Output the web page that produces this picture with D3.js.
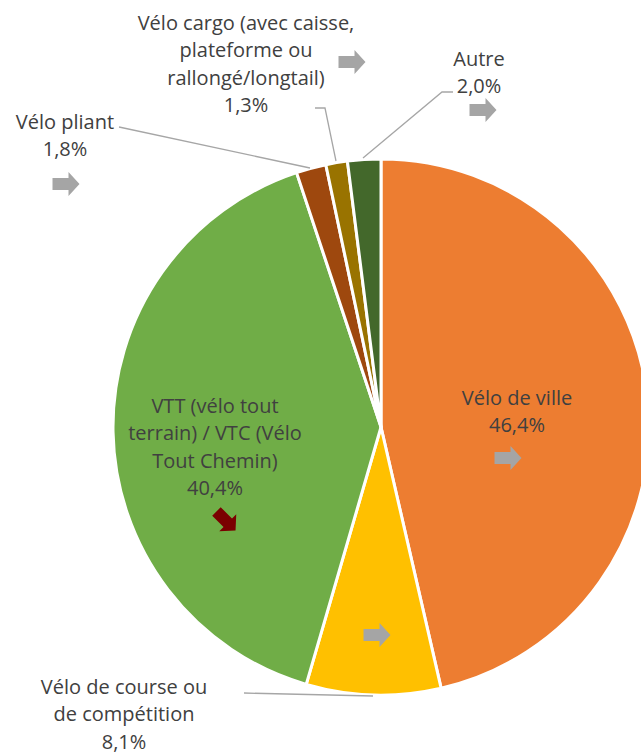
<!DOCTYPE html>
<html>
<head>
<meta charset="utf-8">
<script src="https://cdn.jsdelivr.net/npm/d3@7"></script>
<style>
  body { margin: 0; background: #fff; }
  svg text { font-family: "Open Sans", "Noto Sans", sans-serif; font-size: 20px; fill: #404040; }
</style>
</head>
<body>
<svg width="641" height="753"></svg>
<script>
// data
var categories = ["Vélo de ville", "Vélo de course ou de compétition", "VTT (vélo tout terrain) / VTC (Vélo Tout Chemin)", "Vélo pliant", "Vélo cargo (avec caisse, plateforme ou rallongé/longtail)", "Autre"];
var values = [46.4, 8.1, 40.4, 1.8, 1.3, 2.0];
var trends = ["flat", "flat", "down", "flat", "flat", "flat"];
var colors = ["#ED7D31", "#FFC000", "#70AD47", "#9E480E", "#997300", "#43682B"];

// label layout (text lines, centre x, first line y, arrow centre)
var labelLines = [
  ["Vélo de ville", "46,4%"],
  ["Vélo de course ou", "de compétition", "8,1%"],
  ["VTT (vélo tout", "terrain) / VTC (Vélo", "Tout Chemin)", "40,4%"],
  ["Vélo pliant", "1,8%"],
  ["Vélo cargo (avec caisse,", "plateforme ou", "rallongé/longtail)", "1,3%"],
  ["Autre", "2,0%"]
];
var labelPos = [[517, 397], [124, 686], [215, 405], [65, 121], [246, 22], [479, 58]];
var arrowPos = [[508, 458], [377, 635], [226, 521], [66, 184], [352, 62], [483, 110]];
var leaders = [
  null,
  [[244, 693], [373, 696]],
  null,
  [[119, 127], [310, 168]],
  [[315, 108], [325, 108], [336, 161]],
  [[453, 92], [442, 92], [363, 158]]
];

var width = 641, height = 753;
var cx = 381, cy = 427, radius = 268;
var lineH = 27.3;

var svg = d3.select("svg");

var pie = d3.pie().sort(null).value(function(d) { return d; });
var arc = d3.arc().innerRadius(0).outerRadius(radius);

var g = svg.append("g").attr("transform", "translate(" + cx + "," + cy + ")");
g.selectAll("path")
  .data(pie(values))
  .enter()
  .append("path")
  .attr("d", arc)
  .attr("fill", function(d, i) { return colors[i]; })
  .attr("stroke", "#fff")
  .attr("stroke-width", 3)
  .attr("stroke-linejoin", "round");

// leader lines
var line = d3.line();
svg.selectAll("path.leader")
  .data(leaders.filter(function(d) { return d; }))
  .enter()
  .append("path")
  .attr("class", "leader")
  .attr("d", line)
  .attr("fill", "none")
  .attr("stroke", "#A6A6A6")
  .attr("stroke-width", 1.3);

// labels
categories.forEach(function(c, i) {
  var t = svg.append("text")
    .attr("text-anchor", "middle")
    .attr("x", labelPos[i][0])
    .attr("y", labelPos[i][1])
    .attr("dominant-baseline", "central");
  labelLines[i].forEach(function(s, j) {
    t.append("tspan")
      .attr("x", labelPos[i][0])
      .attr("y", labelPos[i][1] + j * lineH)
      .text(s);
  });
});

// trend arrows
var arrowShape = "M-13.5,-6 L2.5,-6 L2.5,-12 L13.5,0 L2.5,12 L2.5,6 L-13.5,6 Z";
svg.selectAll("path.arrow")
  .data(trends)
  .enter()
  .append("path")
  .attr("class", "arrow")
  .attr("d", arrowShape)
  .attr("fill", function(d) { return d === "down" ? "#7A0000" : "#A5A5A5"; })
  .attr("transform", function(d, i) {
    var rot = d === "down" ? 45 : (d === "up" ? -45 : 0);
    return "translate(" + arrowPos[i][0] + "," + arrowPos[i][1] + ") rotate(" + rot + ")";
  });
</script>
</body>
</html>
